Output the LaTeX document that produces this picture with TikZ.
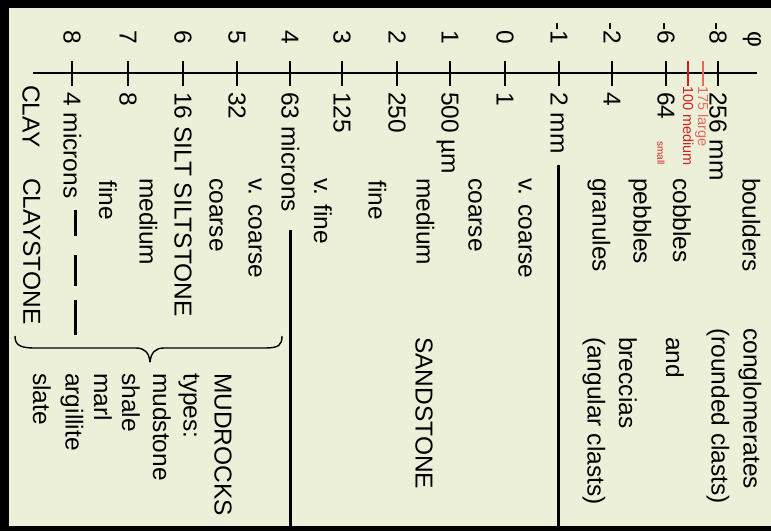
\documentclass[tikz,border=0pt]{standalone}
\usepackage{fontspec}
\setmainfont{Liberation Sans}
\definecolor{bg}{RGB}{237,240,217}
\definecolor{redA}{RGB}{204,34,34}
\definecolor{redB}{RGB}{228,105,95}
\newcommand{\bigsz}{\fontsize{24.5}{29}\selectfont}
\newcommand{\redsz}{\fontsize{14.5}{16}\selectfont}
\newcommand{\smlsz}{\fontsize{10}{12}\selectfont}
\begin{document}
\begin{tikzpicture}[x=1pt,y=-1pt,
  txt/.style={rotate=-90, anchor=west, inner sep=0pt, text height=17pt, text depth=0pt,
              font=\bigsz},
  phil/.style={rotate=-90, anchor=east, inner sep=0pt, text height=17pt, text depth=0pt,
              font=\bigsz},
  redlab/.style={rotate=-90, anchor=west, inner sep=0pt, text height=10pt, text depth=0pt,
              font=\redsz},
  ticker/.style={line width=1.8pt},
  axisline/.style={line width=1.4pt},
  bound/.style={line width=3pt},
  bracepath/.style={line width=1.4pt, line join=round}]
\useasboundingbox (0,0) rectangle (771,531);
\fill[black] (0,0) rectangle (771,531);
\fill[bg] (9,8) rectangle (771,526);
% axis
\coordinate (axL) at (33,73);
\coordinate (axR) at (757,73);
\draw[axisline] (axL) -- (axR);
% ticks with phi values and sizes
\foreach \x/\p/\s [count=\i] in {72/8/4 microns, 128/7/8, 183/6/16 SILT SILTSTONE, 237/5/32,
    290/4/63 microns, 342/3/125, 397/2/250, 450/1/500 µm, 505/0/1, 559/-1/2 mm,
    612/-2/4, 666/-6/64, 718/-8/256 mm}{
  \coordinate (ta\i) at (\x,61);
  \coordinate (tb\i) at (\x,86);
  \draw[ticker] (ta\i) -- (tb\i);
  \node[phil] (phi\i) at (\x,44) {\p};
  \node[txt] (size\i) at (\x,92) {\s};
}
\node[rotate=-90, inner sep=0pt, font=\bigsz] (phisym) at (752,39) {φ};
% red ticks and labels
\coordinate (ra) at (688,61); \coordinate (rb) at (688,86);
\coordinate (rc) at (703,61); \coordinate (rd) at (703,86);
\draw[ticker, redA] (ra) -- (rb);
\draw[ticker, redB] (rc) -- (rd);
\node[redlab, text=redA] (med) at (688,86) {\redsz 100 medium};
\node[redlab, text=redB] (lrg) at (703,86) {\redsz 175 large};
\node[redlab, text=redA, text height=7.5pt] (sml) at (661,141) {\smlsz small};
% clay
\node[txt] (clay) at (31,85) {CLAY};
\node[txt] (claystone) at (32,178) {CLAYSTONE};
% silt classes
\node[txt] (sfine) at (107.5,180) {fine};
\node[txt] (smed) at (148,178) {medium};
\node[txt] (scoarse) at (218,178) {coarse};
\node[txt] (svc) at (257,178) {v. coarse};
% sand classes
\node[txt] (dvf) at (322.5,178) {v. fine};
\node[txt] (dfine) at (377,180) {fine};
\node[txt] (dmed) at (425,178) {medium};
\node[txt] (dcoarse) at (477,178) {coarse};
\node[txt] (dvc) at (527,178) {v. coarse};
% gravel classes
\node[txt] (gran) at (601,178) {granules};
\node[txt] (peb) at (642,178) {pebbles};
\node[txt] (cob) at (681.5,178) {cobbles};
\node[txt] (bould) at (751,178) {boulders};
% rock names
\node[txt] (sandstone) at (424,337) {SANDSTONE};
\node[txt] (cong) at (752,328) {conglomerates};
\node[txt] (rounded) at (720,328) {(rounded clasts)};
\node[txt] (and) at (674.5,337) {and};
\node[txt] (brec) at (627.5,337) {breccias};
\node[txt] (angular) at (596,337) {(angular clasts)};
\node[txt] (mudrocks) at (223,373) {MUDROCKS};
\node[txt] (types) at (192,373) {types:};
\node[txt] (mudstone) at (161.5,373) {mudstone};
\node[txt] (shale) at (130.5,373) {shale};
\node[txt] (marl) at (102.5,373) {marl};
\node[txt] (argillite) at (74,373) {argillite};
\node[txt] (slate) at (41.5,373) {slate};
% boundaries
\coordinate (b1t) at (290,230); \coordinate (b1b) at (290,526);
\coordinate (b2t) at (558,165); \coordinate (b2b) at (558,526);
\draw[bound] (b1t) -- (b1b);
\draw[bound] (b2t) -- (b2b);
\draw[bound] (75,210) -- (75,236) (75,255) -- (75,286) (75,300) -- (75,335);
% brace
\draw[bracepath] (15,336) .. controls (15,345) and (20,348) .. (35,348) -- (136,348)
  .. controls (145,348) and (149,353) .. (150,362)
  .. controls (151,353) and (155,348) .. (164,348) -- (265,348)
  .. controls (279,348) and (282,345) .. (282,336);
\end{tikzpicture}
\end{document}
